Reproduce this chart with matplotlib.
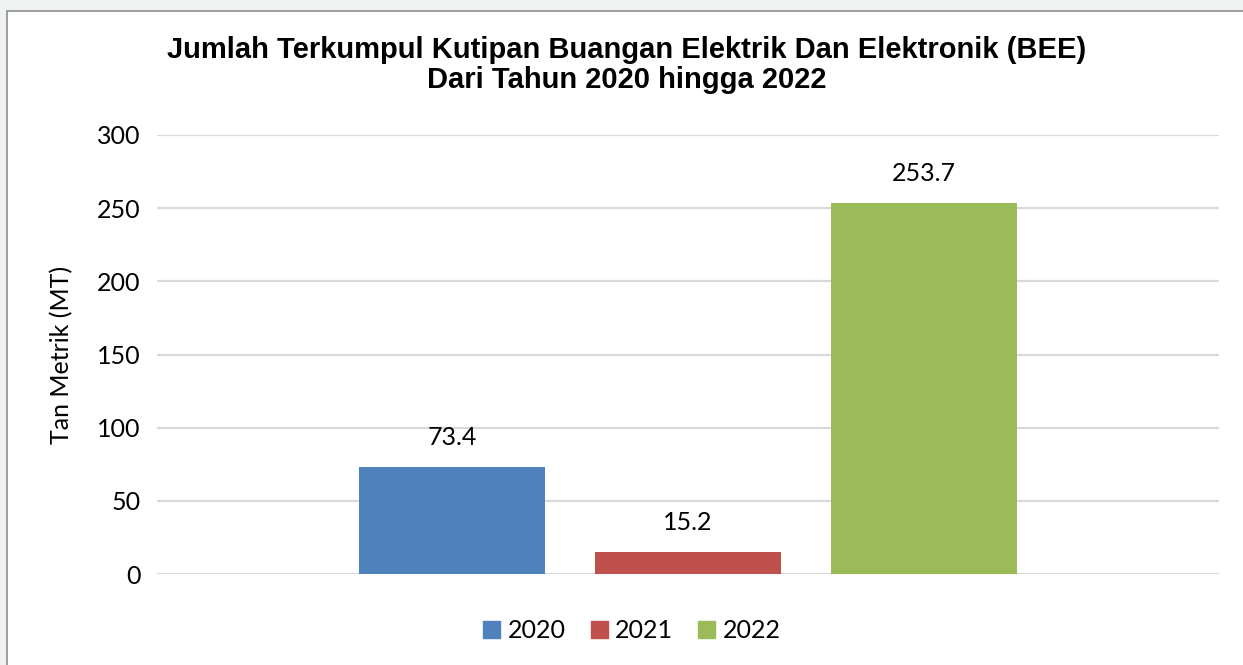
import matplotlib
matplotlib.use('Agg')
import matplotlib.pyplot as plt
from matplotlib.patches import Rectangle

years = ['2020', '2021', '2022']
values = [73.4, 15.2, 253.7]
colors = ['#4f81bd', '#c0504d', '#9bbb59']
yticks = [0, 50, 100, 150, 200, 250, 300]

W, H = 1243, 665
fig = plt.figure(figsize=(W / 100, H / 100), dpi=100)
fig.patch.set_facecolor('#eef3f2')

# white chart box with grey border (top/left visible)
fig.patches.append(Rectangle((7 / W, -0.01), 1.0, 1 - 11 / H + 0.01,
                             transform=fig.transFigure, facecolor='white',
                             edgecolor='#8c8c8c', linewidth=1.2, zorder=-5))

ax = fig.add_axes([157 / W, 1 - 574 / H, (1219 - 157) / W, (574 - 135) / H])
ax.set_facecolor('none')
ax.set_zorder(2)

tick_font = 'Lato'
fs = 18
x = range(len(years))
bars = ax.bar(x, values, width=0.788, color=colors, zorder=3)
for b, v in zip(bars, values):
    ax.text(b.get_x() + b.get_width() / 2, v + 12, f'{v:.1f}',
            ha='center', va='bottom', fontsize=fs, family=tick_font)

ax.set_xlim(-1.25, 3.25)
ax.set_ylim(0, 300)
ax.set_yticks(yticks)
ax.set_yticklabels([str(t) for t in yticks], fontsize=fs, family=tick_font)
ax.set_xticks([])
ax.tick_params(axis='y', length=0, pad=12)
ax.grid(axis='y', color='#d9d9d9', linewidth=1.6, zorder=0)
for s in ax.spines.values():
    s.set_visible(False)

ax.set_ylabel('Tan Metrik (MT)', fontsize=fs, family=tick_font, labelpad=17)

fig.text(627 / W, 1 - 65 / H,
         'Jumlah Terkumpul Kutipan Buangan Elektrik Dan Elektronik (BEE)\nDari Tahun 2020 hingga 2022',
         ha='center', va='center', fontsize=21, fontweight='bold',
         family='Liberation Sans', linespacing=1.05)

handles = [Rectangle((0, 0), 1, 1, color=c) for c in colors]
fig.legend(handles, years, loc='center', bbox_to_anchor=(632 / W, 1 - 631 / H),
           ncol=3, frameon=False, prop={'family': tick_font, 'size': fs},
           handlelength=0.68, handleheight=0.68, handletextpad=0.3,
           columnspacing=1.0)

fig.savefig('out.png', dpi=100, facecolor=fig.get_facecolor())
